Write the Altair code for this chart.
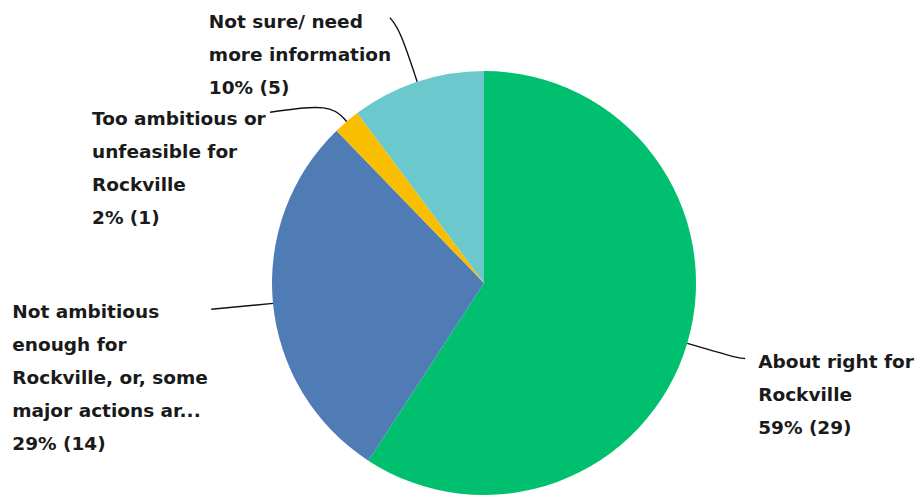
import math
import altair as alt
import pandas as pd

# ---- data ----
categories = [
    "About right for Rockville",
    "Not ambitious enough for Rockville, or, some major actions ar...",
    "Too ambitious or unfeasible for Rockville",
    "Not sure/ need more information",
]
counts = [29, 14, 1, 5]
label_text = [
    "About right for\nRockville\n59% (29)",
    "Not ambitious\nenough for\nRockville, or, some\nmajor actions ar...\n29% (14)",
    "Too ambitious or\nunfeasible for\nRockville\n2% (1)",
    "Not sure/ need\nmore information\n10% (5)",
]
colors = ["#00BF6F", "#507CB6", "#F9BE00", "#6BC8CD"]

# ---- layout (pixels) ----
CX, CY, R = 476, 275, 212
# per slice: radial extension of leader, elbow offset, label offset from leader end
leader_ext = [50, 62, 24, 55]
elbow = [(10, 1), (0, 0), (-61, 9), (-10, -12)]
label_off = [(13, 9), (-199, 9), (-178, 13), (-181, 10)]

total = sum(counts)
pie = pd.DataFrame({"cat": categories, "n": counts, "order": list(range(len(counts)))})

line_rows, text_rows = [], []
cum = 0
for i, c in enumerate(counts):
    mid = (cum + c / 2) / total * 2 * math.pi
    cum += c
    s, co = math.sin(mid), math.cos(mid)
    p0 = (CX + R * s, CY - R * co)
    p1 = (CX + (R + leader_ext[i]) * s, CY - (R + leader_ext[i]) * co)
    p2 = (p1[0] + elbow[i][0], p1[1] + elbow[i][1])
    pts = [p0, p1, p2] if elbow[i] != (0, 0) else [p0, p1]
    for k, (x, y) in enumerate(pts):
        line_rows.append({"cat": categories[i], "k": k, "x": x, "y": y})
    text_rows.append({"cat": categories[i], "label": label_text[i],
                      "x": p2[0] + label_off[i][0], "y": p2[1] + label_off[i][1]})

lines = pd.DataFrame(line_rows)
texts = pd.DataFrame(text_rows)

arc = alt.Chart(pie).mark_arc(radius=R).encode(
    theta=alt.Theta("n:Q", stack=True),
    color=alt.Color("cat:N", scale=alt.Scale(domain=categories, range=colors), legend=None),
    order=alt.Order("order:Q"),
    x=alt.value(CX),
    y=alt.value(CY),
)

leaders = alt.Chart(lines).mark_line(color="#111", strokeWidth=1.4, interpolate="basis").encode(
    x=alt.X("x:Q", scale=None),
    y=alt.Y("y:Q", scale=None),
    detail="cat:N",
    order="k:Q",
)

labels = alt.Chart(texts).mark_text(
    align="left", baseline="alphabetic", lineBreak="\n", lineHeight=33,
    font="DejaVu Sans", fontSize=18.5, fontWeight="bold", color="#1a1a1a",
).encode(
    x=alt.X("x:Q", scale=None),
    y=alt.Y("y:Q", scale=None),
    text="label:N",
)

chart = alt.layer(arc, leaders, labels).properties(
    width=907, height=487, padding=0, autosize="none"
).configure_view(stroke=None)

chart.save("out.html", embed_options={"renderer": "svg", "actions": False})
